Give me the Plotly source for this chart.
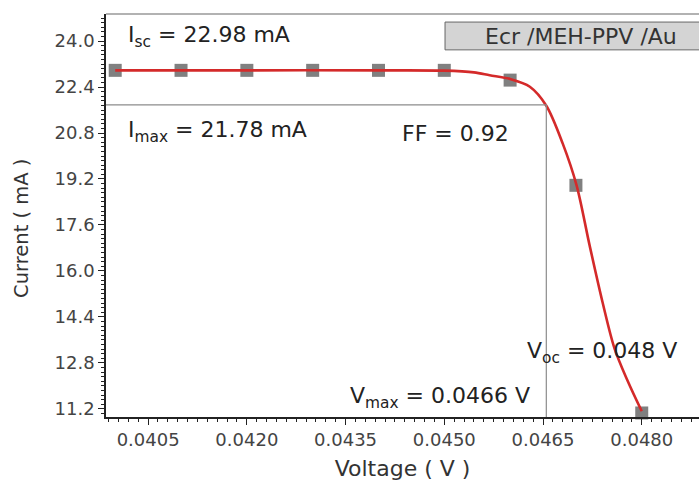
import plotly.graph_objects as go

# measured points
volt_pts = [0.040, 0.041, 0.042, 0.043, 0.044, 0.045, 0.046, 0.047, 0.048]
curr_pts = [22.98, 22.98, 22.98, 22.98, 22.98, 22.98, 22.64, 18.98, 11.06]

# fitted curve
fit_v = [0.0400, 0.0420, 0.0440, 0.0450, 0.04545, 0.04569, 0.0460, 0.0463, 0.04655,
         0.0468, 0.04701, 0.047208, 0.04741, 0.047587, 0.047785, 0.04800]
fit_i = [22.98, 22.98, 22.98, 22.97, 22.91, 22.81, 22.68, 22.41, 21.75,
         20.43, 18.98, 16.89, 14.86, 13.30, 12.18, 11.12]

v_max = 0.04655
i_max = 21.78

x_ticks = [0.0405, 0.0420, 0.0435, 0.0450, 0.0465, 0.0480]
y_ticks = [11.2, 12.8, 14.4, 16.0, 17.6, 19.2, 20.8, 22.4, 24.0]

FONT = "DejaVu Sans, Liberation Sans, Arial, sans-serif"

fig = go.Figure()
fig.add_trace(go.Scatter(x=volt_pts, y=curr_pts, mode="markers",
                         marker=dict(symbol="square", size=13, color="#808080"),
                         cliponaxis=False, showlegend=False))
fig.add_trace(go.Scatter(x=fit_v, y=fit_i, mode="lines",
                         line=dict(color="#d42a2a", width=2.6, shape="spline", smoothing=0.9),
                         cliponaxis=False, showlegend=False))

# guide lines
x0 = 0.03986
fig.add_trace(go.Scatter(x=[x0, v_max, v_max], y=[i_max, i_max, 10.92], mode="lines",
                         line=dict(color="#8c8c8c", width=1.2), showlegend=False))

ann_font = dict(size=22, color="#222", family=FONT)

fig.update_layout(
    width=699, height=486,
    margin=dict(l=106, r=0, t=14, b=69),
    plot_bgcolor="white", paper_bgcolor="white",
    font=dict(family=FONT, color="#333"),
    xaxis=dict(range=[x0, 0.04887], tickvals=x_ticks,
               ticktext=[f"{v:.4f}" for v in x_ticks],
               ticks="outside", ticklen=6, tickwidth=1.2, tickcolor="#222",
               showline=True, linecolor="#222", linewidth=1.5,
               showgrid=False, zeroline=False,
               tickfont=dict(size=18, color="#444"),
               minor=dict(dtick=0.00015, tick0=0.0405, ticks="outside", ticklen=3,
                          tickcolor="#222", showgrid=False),
               title=dict(text="Voltage ( V )", font=dict(size=22, color="#333"), standoff=11)),
    yaxis=dict(range=[10.92, 24.94], tickvals=y_ticks,
               ticktext=[f"{v:.1f}" for v in y_ticks],
               ticks="outside", ticklen=6, tickwidth=1.2, tickcolor="#222",
               showline=True, linecolor="#222", linewidth=1.5,
               showgrid=False, zeroline=False,
               tickfont=dict(size=18, color="#444"),
               minor=dict(dtick=0.16, tick0=11.2, ticks="outside", ticklen=3,
                          tickcolor="#222", showgrid=False)),
    shapes=[
        dict(type="line", xref="paper", yref="paper", x0=0, x1=1, y0=1, y1=1,
             line=dict(color="#999999", width=1.5)),
        dict(type="rect", xref="paper", yref="paper", x0=0.5717, x1=1.02, y0=0.911, y1=0.980,
             fillcolor="#d4d4d4", line=dict(color="#666666", width=1)),
    ],
    annotations=[
        dict(x=-0.1417, y=0.469, xref="paper", yref="paper", xanchor="center", yanchor="middle",
             text="Current ( mA )", textangle=-90, showarrow=False,
             font=dict(size=19.5, color="#333", family=FONT)),
        dict(x=0.801, y=0.944, xref="paper", yref="paper", xanchor="center", yanchor="middle",
             text="Ecr /MEH-PPV /Au", showarrow=False, font=dict(size=22, color="#333", family=FONT)),
        dict(x=0.04016, y=24.17, xref="x", yref="y", xanchor="left", yanchor="middle",
             text="I<sub>sc</sub> = 22.98 mA", showarrow=False, font=ann_font),
        dict(x=0.04016, y=20.86, xref="x", yref="y", xanchor="left", yanchor="middle",
             text="I<sub>max</sub> = 21.78 mA", showarrow=False, font=ann_font),
        dict(x=0.04432, y=20.79, xref="x", yref="y", xanchor="left", yanchor="middle",
             text="FF = 0.92", showarrow=False, font=ann_font),
        dict(x=0.04622, y=13.16, xref="x", yref="y", xanchor="left", yanchor="middle",
             text="V<sub>oc</sub> = 0.048 V", showarrow=False, font=ann_font),
        dict(x=0.04353, y=11.59, xref="x", yref="y", xanchor="left", yanchor="middle",
             text="V<sub>max</sub> = 0.0466 V", showarrow=False, font=ann_font),
    ],
)

fig.write_html("out.html")
